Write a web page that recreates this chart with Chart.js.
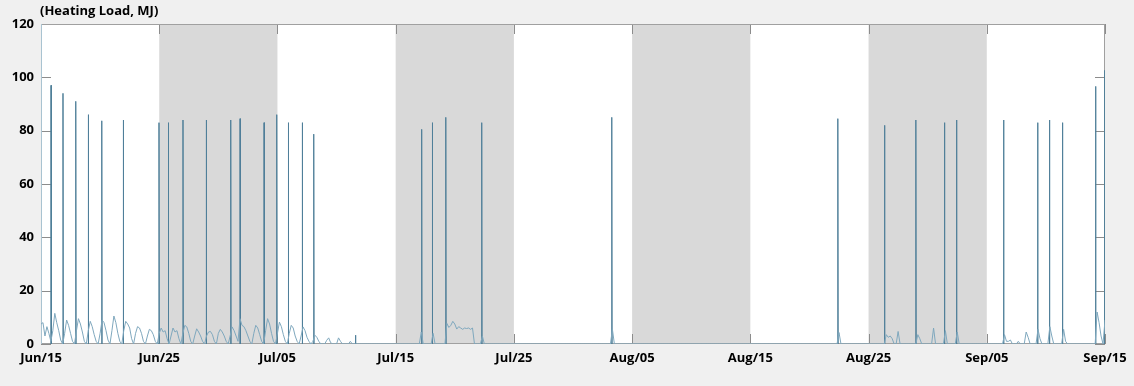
<!DOCTYPE html>
<html>
<head>
<meta charset="utf-8">
<script src="https://cdn.jsdelivr.net/npm/chart.js@4.4.1/dist/chart.umd.min.js"></script>
<style>
  html, body { margin: 0; padding: 0; background: #f0f0f0; }
  #wrap { position: relative; width: 1134px; height: 386px; }
  #title { position: absolute; left: 40px; top: 1px; font: bold 13px "Open Sans", sans-serif; color: #000; }
</style>
</head>
<body>
<div id="wrap">
  <div id="title">(Heating Load, MJ)</div>
  <canvas id="loadChart" width="1134" height="386"></canvas>
</div>
<script>
// x axis runs in day units, one tick label every 10 units
var tickLabels = ['Jun/15', 'Jun/25', 'Jul/05', 'Jul/15', 'Jul/25', 'Aug/05', 'Aug/15', 'Aug/25', 'Sep/05', 'Sep/15'];

// shaded periods (day units)
var bandStarts = [10, 30, 50, 70];
var bandEnds = [20, 40, 60, 80];

// base load, sampled every 4 hours (6 values per day), last value is the end point
var baseLoad = [
  7.5, 8, 3, 6.5, 4, 1,    // d0
  5, 11.5, 8, 5, 1.5, 0,
  4, 9, 7, 4, 1, 0,
  5, 9.5, 7.5, 4.5, 1, 0,
  5, 8.5, 6.5, 3.5, 1, 0,
  4, 9, 8, 5, 1.5, 0,      // d5
  5, 10.5, 8, 4, 1, 0,
  5, 8.5, 7.5, 6, 2, 0,
  4, 6.5, 6, 4, 1, 0,
  3, 5.5, 5, 3.5, 1, 0,
  4, 6, 4.5, 5, 2, 0,      // d10
  3, 6, 4.5, 5, 2, 0,
  4, 7, 6.4, 4, 1, 0,
  3, 5.7, 4.5, 3, 1, 0,
  3, 4.5, 4.7, 3.5, 1, 0,
  4, 5.5, 4.5, 3, 1, 0,    // d15
  3, 6.4, 5, 3, 1, 9.5,
  7, 6.5, 5, 3, 1, 0,
  4, 7, 6, 3.5, 1, 0,
  5, 9.5, 7.5, 4, 1, 0,
  4, 8.2, 6.5, 3.5, 1, 0,  // d20
  4, 7, 6, 3, 1, 0,
  3, 6.4, 5, 2.5, 1, 0,
  1, 3.3, 2.5, 1, 0, 0,
  0, 1.4, 2.3, 0.5, 0, 0,
  0, 2.3, 1, 0, 0, 0,      // d25
  0, 1, 0, 0, 0, 0,
  0, 0, 0, 0, 0, 0,
  0, 0, 0, 0, 0, 0,
  0, 0, 0, 0, 0, 0,
  0, 0, 0, 0, 0, 0,        // d30
  0, 0, 0, 0, 0, 0,
  0, 4.5, 0, 0, 0, 0,
  0, 4, 0, 0, 0, 0,
  0, 0, 7.7, 6.2, 7, 8.5,
  7.5, 5.6, 6.5, 6, 5.5, 6, // d35
  5.8, 6, 5.5, 6, 0, 0,
  0, 0, 3, 0, 0, 0,
  0, 0, 0, 0, 0, 0,
  0, 0, 0, 0, 0, 0,
  0, 0, 0, 0, 0, 0,        // d40
  0, 0, 0, 0, 0, 0,
  0, 0, 0, 0, 0, 0,
  0, 0, 0, 0, 0, 0,
  0, 0, 0, 0, 0, 0,
  0, 0, 0, 0, 0, 0,        // d45
  0, 0, 0, 0, 0, 0,
  0, 0, 0, 0, 0, 0,
  0, 0, 5.5, 0, 0, 0,
  0, 0, 0, 0, 0, 0,
  0, 0, 0, 0, 0, 0,        // d50
  0, 0, 0, 0, 0, 0,
  0, 0, 0, 0, 0, 0,
  0, 0, 0, 0, 0, 0,
  0, 0, 0, 0, 0, 0,
  0, 0, 0, 0, 0, 0,        // d55
  0, 0, 0, 0, 0, 0,
  0, 0, 0, 0, 0, 0,
  0, 0, 0, 0, 0, 0,
  0, 0, 0, 0, 0, 0,
  0, 0, 0, 0, 0, 0,        // d60
  0, 0, 0, 0, 0, 0,
  0, 0, 0, 0, 0, 0,
  0, 0, 0, 0, 0, 0,
  0, 0, 0, 0, 0, 0,
  0, 0, 0, 0, 0, 0,        // d65
  0, 0, 0, 0, 0, 0,
  0, 0, 0, 4.3, 0, 0,
  0, 0, 0, 0, 0, 0,
  0, 0, 0, 0, 0, 0,
  0, 0, 0, 0, 0, 0,        // d70
  0, 0, 0, 3.5, 2.5, 3,
  2, 0, 0, 4.7, 0, 0,
  0, 0, 0, 0, 0, 0,
  0, 3.5, 2, 0, 0, 0,
  0, 0, 0, 6, 0, 0,        // d75
  0, 0, 0, 5, 0, 0,
  0, 0, 0, 4.5, 0, 0,
  0, 0, 0, 0, 0, 0,
  0, 0, 0, 0, 0, 0,
  0, 0, 0, 0, 0, 0,        // d80
  0, 0, 0, 3.5, 1, 1,
  1.5, 0, 0, 0, 1, 0,
  0, 0, 4.5, 2.5, 0, 0,
  0, 0, 5.5, 2, 0, 0,
  0, 0, 6.5, 3, 0, 0,      // d85
  0, 0, 0, 5.5, 1, 0,
  0, 0, 0, 0, 0, 0,
  0, 0, 0, 0, 0, 0,
  0, 0, 12, 8, 3, 0,
  9                        // d90
];

// short start-up peaks
var spikeDays = [0.85, 1.86, 2.94, 4.0, 5.14, 6.96, 9.98, 10.77, 12.01, 13.98, 16.05, 16.84, 18.87, 19.94, 20.92,
  22.1, 23.07, 26.6, 32.2, 33.1, 34.24, 37.28, 48.28, 67.4, 71.35, 74.0, 76.42, 77.44, 81.42, 84.3, 85.3, 86.4, 89.2, 89.96];
var spikeLoads = [97, 94, 91, 86, 83.7, 84, 83, 83, 84, 84, 84, 84.5, 83, 86, 83,
  83, 78.7, 3.3, 80.5, 83, 85, 83, 85, 84.5, 82, 84, 83, 84, 84, 83, 84, 83, 96.6, 102.6];

var basePoints = [];
for (var i = 0; i < baseLoad.length; i++) {
  basePoints.push({x: i / 6, y: baseLoad[i]});
}

var spikePoints = [];
for (var j = 0; j < spikeDays.length; j++) {
  spikePoints.push({x: spikeDays[j] - 0.01, y: 0});
  spikePoints.push({x: spikeDays[j], y: spikeLoads[j]});
  spikePoints.push({x: spikeDays[j] + 0.03, y: 0});
  spikePoints.push({x: spikeDays[j] + 0.03, y: null});
}

// white plot area, grey bands, box with inward ticks
var framePlugin = {
  id: 'frame',
  beforeDraw: function(chart) {
    var ctx = chart.ctx, a = chart.chartArea;
    ctx.save();
    ctx.fillStyle = '#ffffff';
    ctx.fillRect(a.left, a.top, a.right - a.left, a.bottom - a.top);
    ctx.restore();
  },
  beforeDatasetsDraw: function(chart) {
    var ctx = chart.ctx, a = chart.chartArea;
    var x = chart.scales.x, y = chart.scales.y;
    ctx.save();
    ctx.fillStyle = '#d9d9d9';
    for (var i = 0; i < bandStarts.length; i++) {
      var x0 = x.getPixelForValue(bandStarts[i]);
      var x1 = x.getPixelForValue(bandEnds[i]);
      ctx.fillRect(x0, a.top, x1 - x0, a.bottom - a.top);
    }
    ctx.lineWidth = 1;
    ctx.strokeStyle = '#8c8c8c';
    ctx.beginPath();
    x.ticks.forEach(function(t) {
      var px = Math.round(x.getPixelForValue(t.value)) + 0.5;
      ctx.moveTo(px, a.top); ctx.lineTo(px, a.top + 10);
      ctx.moveTo(px, a.bottom); ctx.lineTo(px, a.bottom - 10);
    });
    y.ticks.forEach(function(t) {
      var py = Math.round(y.getPixelForValue(t.value)) + 0.5;
      ctx.moveTo(a.left, py); ctx.lineTo(a.left + 10, py);
      ctx.moveTo(a.right, py); ctx.lineTo(a.right - 10, py);
    });
    ctx.stroke();
    ctx.strokeStyle = '#a0a0a0';
    ctx.beginPath();
    ctx.moveTo(a.left, a.top + 0.5); ctx.lineTo(a.right, a.top + 0.5);
    ctx.moveTo(a.right - 0.5, a.top); ctx.lineTo(a.right - 0.5, a.bottom);
    ctx.moveTo(a.left, a.bottom - 0.5); ctx.lineTo(a.right, a.bottom - 0.5);
    ctx.stroke();
    ctx.strokeStyle = '#a9c3d1';
    ctx.beginPath();
    ctx.moveTo(a.left + 0.5, a.top); ctx.lineTo(a.left + 0.5, a.bottom);
    ctx.stroke();
    ctx.restore();
  }
};

var loadCtx = document.getElementById('loadChart').getContext('2d');
var loadChart = new Chart(loadCtx, {
  type: 'line',
  data: {
    datasets: [{
      label: 'Base load',
      data: basePoints,
      borderColor: '#7fa8be',
      borderWidth: 1,
      pointRadius: 0,
      tension: 0
    }, {
      label: 'Peaks',
      data: spikePoints,
      borderColor: '#4f7f99',
      borderWidth: 1,
      pointRadius: 0,
      tension: 0
    }]
  },
  options: {
    responsive: false,
    animation: false,
    layout: { padding: { left: 0, right: 29, top: 24, bottom: 0 } },
    plugins: {
      legend: { display: false },
      tooltip: { enabled: false }
    },
    scales: {
      x: {
        type: 'linear',
        min: 0,
        max: 90,
        grid: { display: false, drawTicks: false },
        border: { display: false },
        afterFit: function(scale) { scale.height = 42; },
        ticks: {
          stepSize: 10,
          autoSkip: false,
          maxRotation: 0,
          padding: 6,
          color: '#000',
          font: { family: 'Open Sans', weight: 'bold', size: 13 },
          callback: function(v) { return tickLabels[Math.round(v / 10)]; }
        }
      },
      y: {
        min: 0,
        max: 120,
        grid: { display: false, drawTicks: false },
        border: { display: false },
        afterFit: function(scale) { scale.width = 41; },
        ticks: {
          stepSize: 20,
          padding: 7,
          color: '#000',
          font: { family: 'Open Sans', weight: 'bold', size: 13 }
        }
      }
    }
  },
  plugins: [framePlugin]
});
</script>
</body>
</html>
